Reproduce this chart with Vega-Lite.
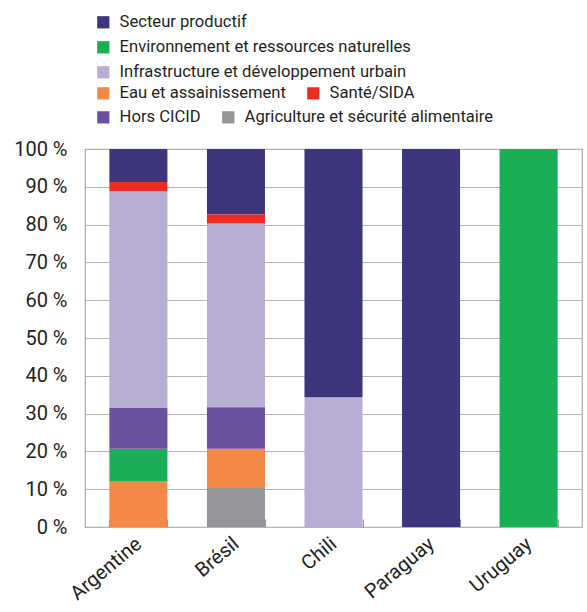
{
  "$schema": "https://vega.github.io/schema/vega-lite/v6.json",
  "width": 497,
  "height": 378,
  "autosize": {"type": "none"},
  "padding": {"left": 85, "top": 149, "right": 5, "bottom": 85},
  "background": "white",
  "config": {
    "font": "Roboto",
    "view": {"stroke": "#a8a8a8", "strokeWidth": 1.2},
    "legend": {
      "orient": "none",
      "symbolType": "square",
      "symbolSize": 150,
      "symbolStrokeWidth": 0,
      "symbolOpacity": 1,
      "labelFont": "Roboto",
      "labelFontSize": 16.6,
      "labelColor": "#231f20",
      "labelOffset": 8,
      "labelLimit": 400,
      "rowPadding": 8,
      "columnPadding": 19,
      "padding": 0,
      "title": null
    }
  },
  "data": {
    "values": [
      {"pays": "Argentine", "secteur": "Eau et assainissement", "part": 12.2},
      {"pays": "Argentine", "secteur": "Environnement et ressources naturelles", "part": 8.5},
      {"pays": "Argentine", "secteur": "Hors CICID", "part": 10.8},
      {"pays": "Argentine", "secteur": "Infrastructure et développement urbain", "part": 57.3},
      {"pays": "Argentine", "secteur": "Santé/SIDA", "part": 2.5},
      {"pays": "Argentine", "secteur": "Secteur productif", "part": 8.7},
      {"pays": "Brésil", "secteur": "Agriculture et sécurité alimentaire", "part": 10.3},
      {"pays": "Brésil", "secteur": "Eau et assainissement", "part": 10.4},
      {"pays": "Brésil", "secteur": "Hors CICID", "part": 11.0},
      {"pays": "Brésil", "secteur": "Infrastructure et développement urbain", "part": 48.6},
      {"pays": "Brésil", "secteur": "Santé/SIDA", "part": 2.4},
      {"pays": "Brésil", "secteur": "Secteur productif", "part": 17.3},
      {"pays": "Chili", "secteur": "Infrastructure et développement urbain", "part": 34.3},
      {"pays": "Chili", "secteur": "Secteur productif", "part": 65.7},
      {"pays": "Paraguay", "secteur": "Secteur productif", "part": 100},
      {"pays": "Uruguay", "secteur": "Environnement et ressources naturelles", "part": 100}
    ]
  },
  "transform": [
    {"stack": "part", "groupby": ["pays"], "as": ["bas", "haut"]}
  ],
  "encoding": {
    "x": {
      "field": "pays",
      "type": "nominal",
      "sort": ["Argentine", "Brésil", "Chili", "Paraguay", "Uruguay"],
      "scale": {"paddingInner": 0.405, "paddingOuter": 0.25},
      "axis": {
        "title": null,
        "domain": false,
        "tickBand": "extent",
        "tickSize": -8,
        "tickColor": "#9a9a9a",
        "tickWidth": 1.2,
        "labelAngle": -40,
        "labelAlign": "right",
        "labelBaseline": "middle",
        "labelFont": "Roboto",
        "labelFontSize": 20,
        "labelColor": "#231f20",
        "labelPadding": 22
      }
    },
    "y": {
      "field": "bas",
      "type": "quantitative",
      "scale": {"domain": [0, 100], "nice": false},
      "axis": {
        "title": null,
        "values": [0, 10, 20, 30, 40, 50, 60, 70, 80, 90, 100],
        "labelExpr": "datum.value + ' %'",
        "domain": false,
        "ticks": false,
        "grid": true,
        "gridColor": "#b4b4b4",
        "gridWidth": 1.2,
        "labelFont": "Roboto",
        "labelFontSize": 20,
        "labelColor": "#231f20",
        "labelPadding": 18
      }
    },
    "y2": {"field": "haut"}
  },
  "layer": [
    {
      "transform": [
        {"filter": {"field": "secteur", "oneOf": ["Secteur productif", "Environnement et ressources naturelles", "Infrastructure et développement urbain"]}}
      ],
      "mark": {"type": "bar"},
      "encoding": {
        "color": {
          "field": "secteur",
          "type": "nominal",
          "scale": {
            "domain": ["Secteur productif", "Environnement et ressources naturelles", "Infrastructure et développement urbain"],
            "range": ["#3d367c", "#1aaf57", "#b8aed3"]
          },
          "legend": {"direction": "vertical", "legendX": 10, "legendY": -135}
        }
      }
    },
    {
      "transform": [
        {"filter": {"field": "secteur", "oneOf": ["Eau et assainissement", "Santé/SIDA"]}}
      ],
      "mark": {"type": "bar"},
      "encoding": {
        "color": {
          "field": "secteur",
          "type": "nominal",
          "scale": {
            "domain": ["Eau et assainissement", "Santé/SIDA"],
            "range": ["#f38847", "#ec2d24"]
          },
          "legend": {"direction": "horizontal", "legendX": 10, "legendY": -64}
        }
      }
    },
    {
      "transform": [
        {"filter": {"field": "secteur", "oneOf": ["Hors CICID", "Agriculture et sécurité alimentaire"]}}
      ],
      "mark": {"type": "bar"},
      "encoding": {
        "color": {
          "field": "secteur",
          "type": "nominal",
          "scale": {
            "domain": ["Hors CICID", "Agriculture et sécurité alimentaire"],
            "range": ["#6c50a0", "#939598"]
          },
          "legend": {"direction": "horizontal", "legendX": 10, "legendY": -40}
        }
      }
    }
  ],
  "resolve": {"scale": {"color": "independent"}, "legend": {"color": "independent"}}
}
